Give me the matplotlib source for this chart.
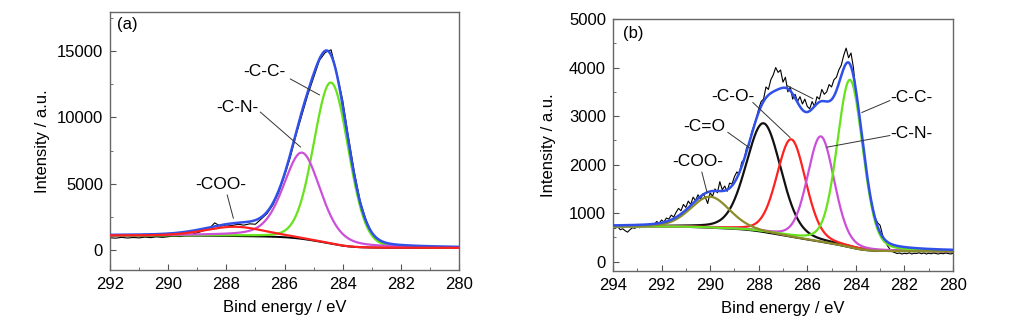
import numpy as np
import matplotlib.pyplot as plt
from matplotlib.ticker import MultipleLocator

plt.rcParams['font.family'] = ['Liberation Sans', 'DejaVu Sans']

# ---- panel (a): measured C 1s spectrum, 292 -> 280 eV, 0.2 eV step
raw_a = [930, 900, 960, 910, 950, 920, 980, 940, 1000, 960,
         1010, 1060, 1020, 1100, 1180, 1300, 1450, 1600, 2050, 1800,
         1900, 1850, 1950, 1880, 1980, 1950, 2350, 2750, 3400, 4350,
         5600, 7000, 8700, 10200, 11700, 13000, 14300, 14900, 15100, 13300,
         11300, 8500, 5900, 3700, 2300, 1250, 700, 480, 350, 300,
         260, 250, 240, 230, 220, 230, 220, 210, 220, 210,
         200]
# fitted components: centre (eV), height, fwhm (eV), lorentzian fraction
names_a = ['-C-C-', '-C-N-', '-COO-']
centre_a = [284.40, 285.40, 287.70]
height_a = [12150, 6500, 700]
fwhm_a = [1.40, 1.50, 2.40]
mix_a = [0.10, 0.35, 0.20]
colors_a = ['#66e31a', '#cc4fd9', '#ff2020']
bg_a = (1100, 170)   # shirley background, high-BE and low-BE levels

# ---- panel (b): measured C 1s spectrum, 294 -> 280 eV, 0.1 eV step
raw_b = [700, 690, 720, 660, 680, 640, 610, 660, 700, 690,
         720, 700, 740, 710, 760, 740, 780, 760, 830, 790,
         860, 820, 900, 880, 960, 920, 1020, 1100, 1050, 1180,
         1120, 1250, 1180, 1330, 1260, 1380, 1290, 1400, 1330, 1200,
         1420, 1350, 1500, 1420, 1650, 1480, 1560, 1450, 1620, 1600,
         1750, 1850, 1800, 2050, 2100, 2350, 2400, 2650, 2800, 2950,
         3150, 3300, 3350, 3600, 3550, 3750, 3850, 4000, 3900, 3950,
         3700, 3800, 3500, 3600, 3350, 3450, 3300, 3400, 3250, 3350,
         3200, 3150, 3300, 3200, 3400, 3350, 3550, 3450, 3500, 3650,
         3600, 3750, 3800, 3950, 4050, 4250, 4400, 4200, 4300, 4000,
         3500, 3150, 2800, 2400, 2000, 1650, 1350, 1100, 900, 800,
         750, 550, 430, 330, 260, 210, 190, 170, 180, 160,
         175, 165, 185, 160, 175, 170, 185, 165, 180, 160,
         175, 165, 180, 170, 160, 175, 165, 180, 170, 160,
         175]
names_b = ['-C-C-', '-C-N-', '-C-O-', '-C=O', '-COO-']
centre_b = [284.24, 285.44, 286.66, 287.80, 290.00]
height_b = [3450, 2170, 2010, 2240, 640]
fwhm_b = [1.25, 1.30, 1.40, 1.70, 1.90]
mix_b = [0.20, 0.20, 0.20, 0.20, 0.20]
colors_b = ['#66e31a', '#cc4fd9', '#ff2020', '#111111', '#8c8c2a']
bg_b = (725, 215)

ENVELOPE = '#3050e8'
FS = 12


def pseudo_voigt(E, c, h, w, eta):
    u = ((E - c) / w) ** 2
    return h * ((1 - eta) * np.exp(-4 * np.log(2) * u) + eta / (1 + 4 * u))


def shirley(peaks, hi, lo):
    # peaks is sampled from high to low binding energy
    area = np.cumsum(peaks[::-1])[::-1]
    return lo + (hi - lo) * area / area[0]


def draw_panel(ax, raw, e_hi, centres, heights, widths, mixes, colors, bg_levels,
               order, top_comp=None, ylabelpad=4):
    e_raw = np.linspace(e_hi, 280, len(raw))
    E = np.linspace(e_hi, 280, 800)
    comps = [pseudo_voigt(E, c, h, w, m) for c, h, w, m in zip(centres, heights, widths, mixes)]
    total = np.sum(comps, axis=0)
    bg = shirley(total, *bg_levels)

    ax.plot(e_raw, raw, color='black', lw=0.8, zorder=2)
    ax.plot(E, bg, color='black', lw=1.4, zorder=3)
    for i in order:
        z = 6 if i == top_comp else 4
        ax.plot(E, bg + comps[i], color=colors[i], lw=1.6, zorder=z)
    ax.plot(E, bg + total, color=ENVELOPE, lw=1.8, zorder=5)

    ax.set_xlim(e_hi, 280)
    ax.xaxis.set_major_locator(MultipleLocator(2))
    ax.xaxis.set_minor_locator(MultipleLocator(1))
    ax.tick_params(which='both', direction='in', top=False, right=False,
                   labelsize=FS, color='#555555', pad=5)
    ax.tick_params(which='major', length=4)
    ax.tick_params(which='minor', length=2.5)
    for s in ax.spines.values():
        s.set_color('#666666')
        s.set_linewidth(1.0)
    ax.set_xlabel('Bind energy / eV', fontsize=FS, labelpad=6)
    ax.set_ylabel('Intensity / a.u.', fontsize=FS, labelpad=ylabelpad)


def add_labels(ax, labels):
    for text, tx, ty, (x0, y0), (x1, y1) in labels:
        ax.text(tx, ty, text, fontsize=12.5, ha='center', va='center', zorder=7)
        ax.plot([x0, x1], [y0, y1], color='#333333', lw=0.7, zorder=7)


fig = plt.figure(figsize=(10.12, 3.31), dpi=100)
ax_a = fig.add_axes([0.1087, 0.1843, 0.3449, 0.7795])
ax_b = fig.add_axes([0.6057, 0.1813, 0.3360, 0.7613])

draw_panel(ax_a, raw_a, 292, centre_a, height_a, fwhm_a, mix_a, colors_a, bg_a,
           order=[0, 1, 2], top_comp=2, ylabelpad=5)
ax_a.set_ylim(-1500, 17950)
ax_a.yaxis.set_major_locator(MultipleLocator(5000))
ax_a.yaxis.set_minor_locator(MultipleLocator(2500))
ax_a.text(0.02, 0.95, '(a)', transform=ax_a.transAxes, fontsize=FS, va='center')
add_labels(ax_a, [
    ('-C-C-', 286.7, 13500, (285.8, 12900), (284.8, 11700)),
    ('-C-N-', 287.62, 10780, (286.83, 10400), (285.45, 7770)),
    ('-COO-', 288.2, 4980, (287.97, 4150), (287.76, 2410)),
])

draw_panel(ax_b, raw_b, 294, centre_b, height_b, fwhm_b, mix_b, colors_b, bg_b,
           order=[3, 2, 1, 0, 4], ylabelpad=9)
ax_b.set_ylim(-190, 5000)
ax_b.yaxis.set_major_locator(MultipleLocator(1000))
ax_b.yaxis.set_minor_locator(MultipleLocator(500))
ax_b.text(0.03, 0.944, '(b)', transform=ax_b.transAxes, fontsize=FS, va='center')
add_labels(ax_b, [
    ('-C-C-', 281.73, 3380, (282.6, 3320), (283.75, 3075)),
    ('-C-N-', 281.73, 2645, (282.6, 2600), (285.19, 2360)),
    ('-C-O-', 289.06, 3400, (288.24, 3280), (286.71, 2560)),
    ('-C=O', 290.25, 2790, (289.27, 2665), (288.36, 2340)),
    ('-COO-', 290.5, 2070, (290.34, 1845), (290.13, 1435)),
    ('', 286.84, 3630, (286.84, 3630), (285.77, 3360)),
])

fig.savefig('out.png', dpi=100)
